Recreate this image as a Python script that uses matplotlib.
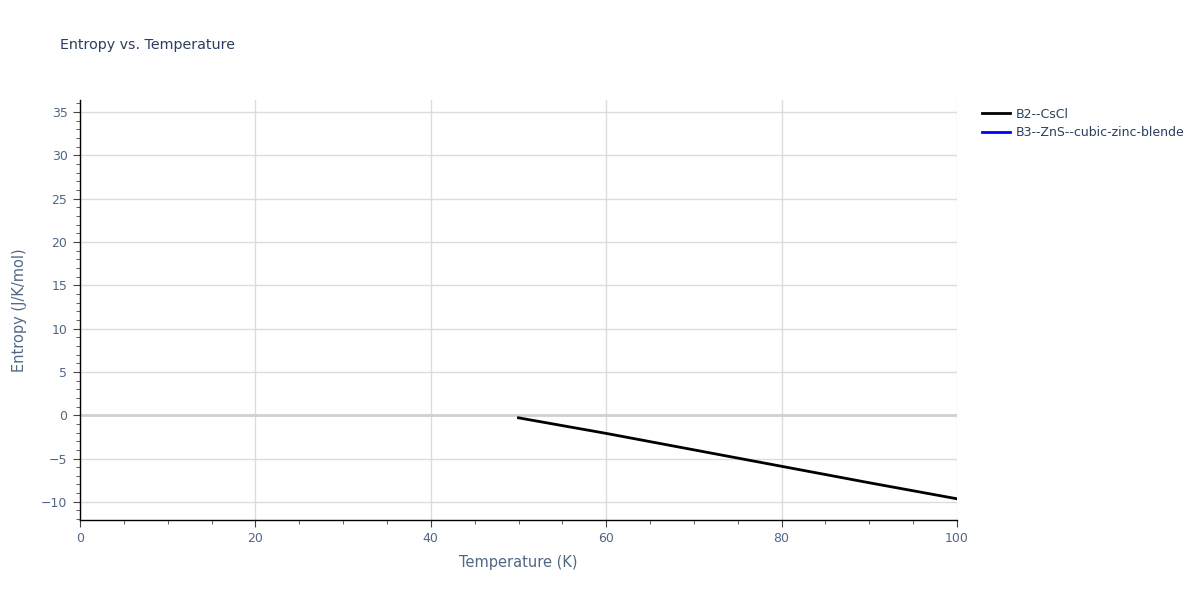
import matplotlib.pyplot as plt
from matplotlib.ticker import MultipleLocator

plt.rcParams['font.family'] = ['DejaVu Sans']

# B2--CsCl entropy curve
temp_b2 = [50, 60, 70, 80, 90, 100]
entropy_b2 = [-0.3, -2.1, -4.0, -5.9, -7.8, -9.65]

# B3 series has no visible points in range
temp_b3 = []
entropy_b3 = []

labels = ['B2--CsCl', 'B3--ZnS--cubic-zinc-blende']
colors = ['black', 'blue']
text_color = '#2a3f5f'


def main():
    fig = plt.figure(figsize=(12, 6), dpi=100)
    ax = fig.add_axes([80 / 1200, 1 - 520 / 600, 877 / 1200, 420 / 600])

    ax.plot(temp_b2, entropy_b2, color=colors[0], lw=2, label=labels[0])
    ax.plot(temp_b3, entropy_b3, color=colors[1], lw=2, label=labels[1])

    ax.set_xlim(0, 100)
    ax.set_ylim(-12.1, 36.4)
    ax.xaxis.set_major_locator(MultipleLocator(20))
    ax.xaxis.set_minor_locator(MultipleLocator(5))
    ax.yaxis.set_major_locator(MultipleLocator(5))
    ax.yaxis.set_minor_locator(MultipleLocator(1))

    ax.grid(True, which='major', color='#dcdcdc', lw=1)
    ax.axhline(0, color='#d0d0d0', lw=2, zorder=1)
    ax.set_axisbelow(True)

    for side in ['top', 'right']:
        ax.spines[side].set_visible(False)
    for side in ['left', 'bottom']:
        ax.spines[side].set_color('black')
        ax.spines[side].set_linewidth(1)

    ax.tick_params(which='major', direction='out', length=5, color='#444444',
                   labelsize=9, labelcolor='#506784', pad=4)
    ax.tick_params(which='minor', direction='out', length=3, color='#444444')

    ax.set_xlabel('Temperature (K)', fontsize=10.5, color='#506784', labelpad=7)
    ax.set_ylabel('Entropy (J/K/mol)', fontsize=10.5, color='#506784', labelpad=10)

    fig.text(60 / 1200, 1 - 45 / 600, 'Entropy vs. Temperature', fontsize=10.3,
             color=text_color, va='center', ha='left')

    leg = ax.legend(loc='upper left', bbox_to_anchor=(1.02, 1.0), frameon=False,
                    fontsize=9, handlelength=2.2, handletextpad=0.5,
                    labelspacing=0.45, borderaxespad=0.2)
    for t in leg.get_texts():
        t.set_color(text_color)

    fig.savefig('out.png', dpi=100, facecolor='white')


if __name__ == '__main__':
    main()
